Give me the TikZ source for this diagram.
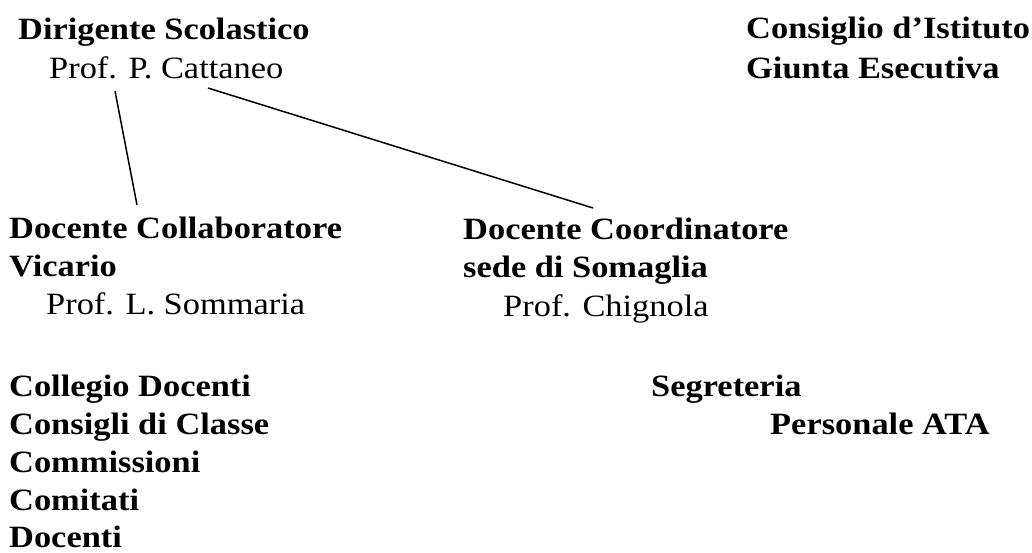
\documentclass[tikz,border=0pt]{standalone}
\usepackage{fontspec}
\setmainfont{Liberation Serif}[FakeStretch=1.11]
\tikzset{
  head/.style={anchor=base west, inner sep=0pt, font=\fontsize{31}{38}\selectfont\bfseries},
  person/.style={anchor=base west, inner sep=0pt, font=\fontsize{31}{38}\selectfont},
  link/.style={line width=1.5pt}
}
\begin{document}
\begin{tikzpicture}[x=1pt, y=-1pt]
			\useasboundingbox (0,0) rectangle (1032,552);
			% top row
			\node[head] (dirigente) at (18,39) {Dirigente Scolastico};
			\node[person] (cattaneo) at (49,78) {Prof. P. Cattaneo};
			\node[head] (consiglio) at (746,38) {Consiglio d’Istituto};
			\node[head] (giunta) at (746,78) {Giunta Esecutiva};
			% second row
			\node[head] (collab) at (9,238) {Docente Collaboratore};
			\node[head] (vicario) at (9,276) {Vicario};
			\node[person] (sommaria) at (46,314) {Prof. L. Sommaria};
			\node[head] (coord) at (463,239) {Docente Coordinatore};
			\node[head] (sede) at (463,277) {sede di Somaglia};
			\node[person] (chignola) at (503,316) {Prof. Chignola};
			% bottom row
			\node[head] (collegio) at (9,396) {Collegio Docenti};
			\node[head] (consigli) at (9,434) {Consigli di Classe};
			\node[head] (commissioni) at (9,472) {Commissioni};
			\node[head] (comitati) at (9,510) {Comitati};
			\node[head] (docenti) at (9,547) {Docenti};
			\node[head] (segreteria) at (651,396) {Segreteria};
			\node[head] (personale) at (770,434) {Personale ATA};
			% links
			\draw[link] ([xshift=66pt, yshift=-13pt]cattaneo.base west) -- ([xshift=128pt, yshift=33pt]collab.base west);
			\draw[link] ([xshift=159pt, yshift=-10pt]cattaneo.base west) -- ([xshift=130pt, yshift=31pt]coord.base west);
\end{tikzpicture}
\end{document}
